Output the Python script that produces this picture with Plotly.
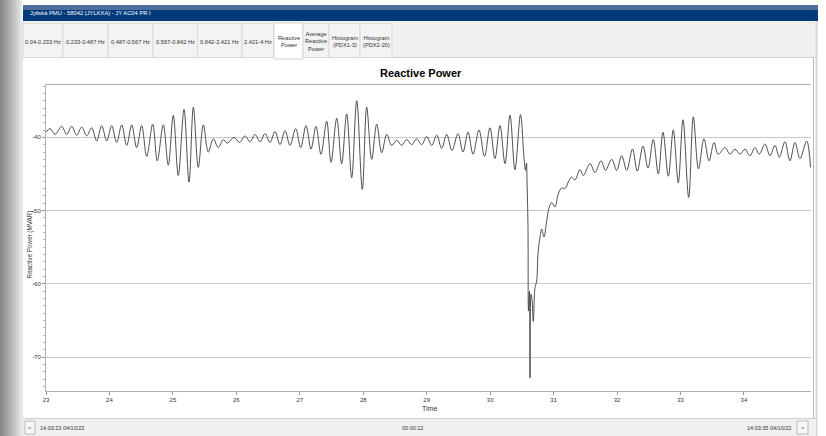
import plotly.graph_objects as go

# ---------------- data ----------------
time_s = [
    23.000, 23.063, 23.142, 23.247, 23.326, 23.405, 23.484, 23.563, 23.641, 23.720,
    23.799, 23.878, 23.957, 24.035, 24.114, 24.193, 24.272, 24.351, 24.429, 24.508,
    24.587, 24.682, 24.754, 24.849, 24.927, 25.006, 25.085, 25.175, 25.254, 25.322,
    25.400, 25.479, 25.558, 25.637, 25.716, 25.794, 25.857, 25.963, 26.050, 26.136,
    26.215, 26.294, 26.373, 26.452, 26.530, 26.609, 26.688, 26.767, 26.846, 26.935,
    27.014, 27.098, 27.177, 27.255, 27.334, 27.424, 27.492, 27.582, 27.660, 27.739,
    27.818, 27.897, 27.985, 28.054, 28.133, 28.212, 28.291, 28.370, 28.448, 28.527,
    28.606, 28.685, 28.764, 28.842, 28.921, 29.000, 29.079, 29.158, 29.236, 29.315,
    29.399, 29.493, 29.572, 29.651, 29.730, 29.824, 29.911, 29.997, 30.076, 30.155,
    30.234, 30.313, 30.391, 30.478, 30.533, 30.557, 30.573, 30.581, 30.596, 30.604,
    30.620, 30.628, 30.644, 30.659, 30.680, 30.707, 30.733, 30.754, 30.786, 30.812,
    30.849, 30.891, 30.932, 30.970, 31.022, 31.074, 31.127, 31.180, 31.232, 31.285,
    31.337, 31.416, 31.468, 31.574, 31.653, 31.747, 31.818, 31.916, 31.994, 32.073,
    32.152, 32.243, 32.319, 32.409, 32.488, 32.571, 32.650, 32.724, 32.808, 32.886,
    32.965, 33.039, 33.129, 33.202, 33.283, 33.370, 33.449, 33.528, 33.595, 33.701,
    33.780, 33.858, 33.937, 34.016, 34.095, 34.174, 34.241, 34.331, 34.410, 34.489,
    34.557, 34.646, 34.725, 34.804, 34.883, 34.989, 35.050,
]
reactive_power_mvar = [
    -39.3, -38.8, -39.6, -38.5, -39.6, -38.5, -39.7, -38.6, -39.8, -38.7,
    -40.5, -38.4, -40.5, -38.4, -40.7, -38.3, -41.1, -38.3, -41.4, -38.4,
    -42.6, -38.2, -43.2, -38.3, -43.8, -37.0, -45.2, -36.2, -46.1, -35.9,
    -44.1, -38.3, -42.0, -40.2, -41.4, -40.3, -40.8, -40.0, -40.7, -39.8,
    -40.6, -39.6, -40.6, -39.5, -40.7, -39.2, -41.0, -39.1, -41.1, -38.8,
    -41.4, -38.4, -41.6, -38.5, -42.3, -37.8, -43.4, -37.4, -43.6, -36.8,
    -45.5, -35.0, -47.1, -35.9, -43.0, -38.2, -42.1, -39.6, -41.1, -40.4,
    -41.1, -40.3, -41.0, -40.2, -41.0, -39.9, -41.1, -39.7, -41.5, -39.6,
    -41.8, -39.5, -42.0, -39.3, -42.3, -39.0, -42.6, -38.7, -42.9, -38.4,
    -43.6, -37.0, -44.4, -36.9, -42.7, -44.5, -43.5, -45.9, -52.0, -63.7,
    -61.0, -72.8, -61.4, -62.0, -65.1, -60.5, -59.6, -55.9, -53.6, -52.5,
    -53.6, -51.4, -49.5, -48.9, -49.5, -47.7, -46.9, -47.0, -46.1, -45.4,
    -45.8, -44.4, -45.2, -43.6, -44.8, -43.2, -44.5, -43.0, -44.5, -42.5,
    -44.5, -41.6, -44.6, -41.2, -44.2, -40.3, -45.0, -39.3, -45.3, -39.0,
    -46.2, -37.6, -48.2, -37.2, -44.3, -40.2, -43.2, -40.7, -42.3, -41.4,
    -42.3, -41.6, -42.3, -41.6, -42.5, -41.4, -42.3, -40.9, -42.5, -41.1,
    -42.7, -40.6, -43.2, -40.7, -42.9, -40.5, -44.1,
]
x_tick_values = [23, 24, 25, 26, 27, 28, 29, 30, 31, 32, 33, 34]
y_tick_values = [-70, -60, -50, -40]
tab_labels = [
    "0.04-0.233 Hz", "0.233-0.487 Hz", "0.487-0.567 Hz", "0.567-0.842 Hz",
    "0.842-2.421 Hz", "2.421-4 Hz", "Reactive<br>Power", "Average<br>Reactive<br>Power",
    "Histogram<br>(PDX1-3)", "Histogram<br>(PDX2-20)",
]
active_tab = "Reactive<br>Power"
window_title = "Jyllská PMU - 58042 (JYLKXA) - JY AC04 PR I"
chart_title = "Reactive Power"
y_title = "Reactive Power (MVAR)"
x_title = "Time"
start_stamp = "14:03:23 04/10/22"
span_stamp = "00:00:12"
end_stamp = "14:03:35 04/10/22"

# ---------------- layout geometry (pixels) ----------------
W, H = 826, 436
ML, MR, MT, MB = 46, 15, 85, 45
PW, PH = W - ML - MR, H - MT - MB
FONT = "Liberation Sans, Arial, sans-serif"


def px(x):
    return (x - ML) / PW


def py(y):
    return (H - MB - y) / PH


shapes = []
annotations = []


def rect(x0, y0, x1, y1, fill, line=None, lw=0, layer="below"):
    shapes.append(dict(type="rect", xref="paper", yref="paper",
                       x0=px(x0), x1=px(x1), y0=py(y1), y1=py(y0),
                       fillcolor=fill, layer=layer,
                       line=dict(color=line or fill, width=lw)))


def hline(x0, x1, y, color, lw=1, layer="below"):
    shapes.append(dict(type="line", xref="paper", yref="paper",
                       x0=px(x0), x1=px(x1), y0=py(y), y1=py(y),
                       line=dict(color=color, width=lw), layer=layer))


def vline(x, y0, y1, color, lw=1, layer="below"):
    shapes.append(dict(type="line", xref="paper", yref="paper",
                       x0=px(x), x1=px(x), y0=py(y0), y1=py(y1),
                       line=dict(color=color, width=lw), layer=layer))


def text(x, y, s, size=6, color="#333333", xa="center", ya="middle", bold=False, angle=0):
    annotations.append(dict(xref="paper", yref="paper", x=px(x), y=py(y), text=("<b>%s</b>" % s) if bold else s,
                            showarrow=False, xanchor=xa, yanchor=ya, textangle=angle,
                            font=dict(family=FONT, size=size, color=color)))


# left grey desktop strip (gradient)
greys = ["#8a8a8a", "#929292", "#9a9a9a", "#a3a3a3", "#acacac", "#b5b5b5",
         "#bebebe", "#c7c7c7", "#d0d0d0", "#dadada", "#e6e6e6"]
for i, g in enumerate(greys):
    rect(i * 2, 0, i * 2 + 2, H, g)

# window title bar
rect(23, 5, 818, 21, "#013a7b")
rect(23, 5, 818, 10, "#4d6f9e")
text(28, 13.5, window_title, size=5.8, color="#ffffff", xa="left")

# tab strip
rect(23, 21, 818, 58, "#efefef")
hline(23, 818, 57.5, "#d2d2d2")
tab_edges = [23, 63, 108, 153, 197.5, 242, 274, 303, 329, 360, 392]
for i, lab in enumerate(tab_labels):
    x0, x1 = tab_edges[i], tab_edges[i + 1]
    if lab == active_tab:
        rect(x0, 23, x1, 59, "#ffffff", "#d2d2d2", 1)
    else:
        rect(x0, 23.5, x1, 57.5, "#f3f3f3", "#d9d9d9", 1)
    text((x0 + x1) / 2, 41.5, lab, size=5.7, color="#333333")

# window borders on the right
vline(813.5, 58, 418, "#b8b8b8")
vline(816.5, 21, 436, "#d8d8d8", 2)
vline(22.5, 21, 436, "#e2e2e2")

# bottom navigation bar
rect(23, 418, 816, 436, "#f0f0f0")
hline(23, 816, 418.5, "#cfcfcf")
rect(25, 421, 35, 434, "#f8f8f8", "#b8b8b8", 1)
text(30, 427.5, "&lt;", size=6, color="#444444")
rect(797, 421, 808, 434, "#f8f8f8", "#b8b8b8", 1)
text(802.5, 427.5, "&gt;", size=6, color="#444444")
text(38, 427.5, start_stamp, size=5.5, xa="left")
text(412, 427.5, span_stamp, size=5.5)
text(793, 427.5, end_stamp, size=5.5, xa="right")

# chart titles
text(421, 73, chart_title, size=11, color="#000000", bold=True)
text(429, 408, x_title, size=7, color="#333333")
text(29.5, 245, y_title, size=6.3, color="#333333", angle=-90)

fig = go.Figure()
fig.add_trace(go.Scatter(
    x=time_s, y=reactive_power_mvar, mode="lines",
    line=dict(color="#3c3c3c", width=0.9, shape="spline", smoothing=1.0),
    hoverinfo="skip", showlegend=False,
))

fig.update_layout(
    width=W, height=H,
    margin=dict(l=ML, r=MR, t=MT, b=MB, pad=0),
    paper_bgcolor="#ffffff", plot_bgcolor="#ffffff",
    showlegend=False,
    shapes=shapes, annotations=annotations,
    xaxis=dict(range=[23, 23 + PW / 63.45], tickvals=x_tick_values,
               ticktext=[str(v) for v in x_tick_values],
               showgrid=False, zeroline=False, showline=True, linecolor="#b0b0b0",
               linewidth=1, mirror=True, ticks="outside", ticklen=3, tickcolor="#9a9a9a",
               tickfont=dict(family=FONT, size=6, color="#333333")),
    yaxis=dict(range=[-74.6, -32.86], tickvals=y_tick_values,
               ticktext=[str(v) for v in y_tick_values],
               showgrid=True, gridcolor="#c9c9c9", gridwidth=1, zeroline=False,
               showline=True, linecolor="#b0b0b0", linewidth=1,
               ticks="outside", ticklen=3, tickcolor="#9a9a9a",
               minor=dict(ticks="outside", dtick=1, ticklen=2, tickcolor="#b5b5b5", showgrid=False),
               tickfont=dict(family=FONT, size=6, color="#333333")),
)

fig.write_html("out.html", config={"displayModeBar": False},
               post_script="document.body.style.margin='0';document.body.style.overflow='hidden';")
